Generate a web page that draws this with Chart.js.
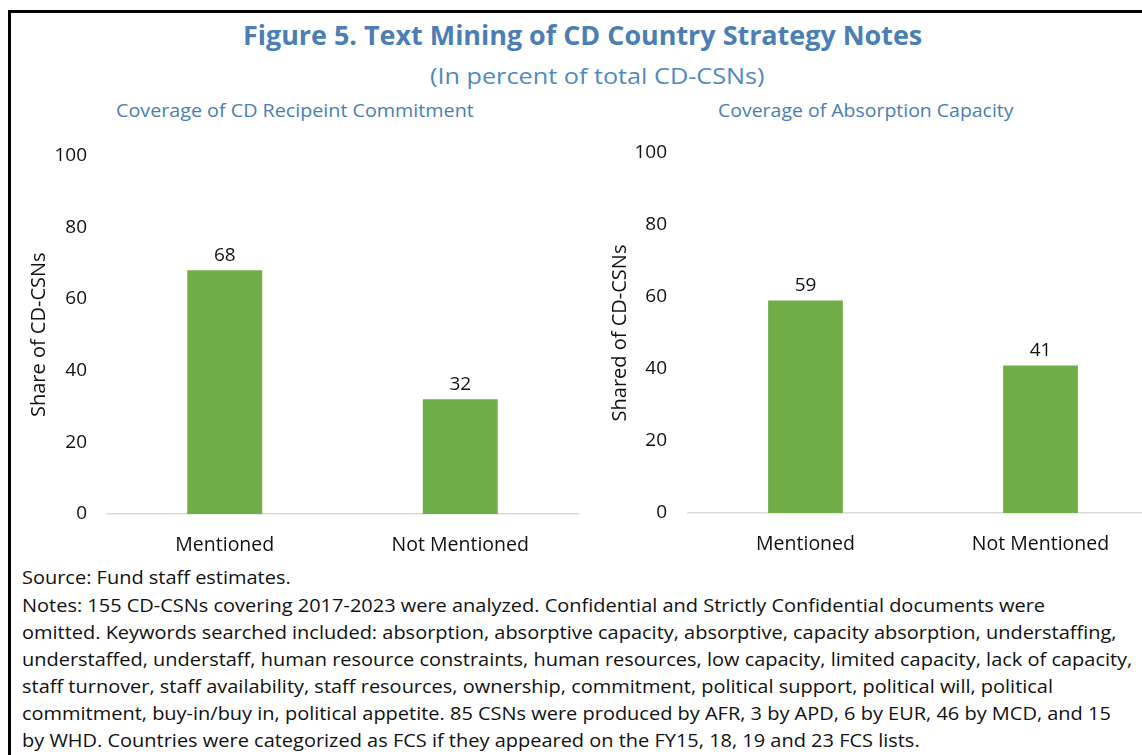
<!DOCTYPE html>
<html><head><meta charset="utf-8">
<script src="https://cdn.jsdelivr.net/npm/chart.js@4.4.0/dist/chart.umd.min.js"></script>
<style>
html,body{margin:0;padding:0;width:1142px;height:755px;overflow:hidden;background:#fff;font-family:"Open Sans",sans-serif;}
.frame{position:absolute;left:8px;top:10px;width:1300px;height:900px;border-left:3px solid #000;border-top:3px solid #000;}
.t{position:absolute;white-space:nowrap;transform-origin:0 50%;line-height:30px;}
.n{font-size:18px;color:#111;}
canvas{position:absolute;}
</style></head><body>
<div class="frame"></div>
<div class="t" data-x="243" data-w="679" data-y="35" style="font-weight:700;font-size:26px;color:#4a7eb4">Figure 5. Text Mining of CD Country Strategy Notes</div>
<div class="t" data-x="430" data-w="334" data-y="76" style="font-size:21px;color:#4f88c2">(In percent of total CD-CSNs)</div>
<div class="t" data-x="116" data-w="358" data-y="110" style="font-size:19px;color:#4a7eb4">Coverage of CD Recipeint Commitment</div>
<div class="t" data-x="718" data-w="296" data-y="110" style="font-size:19px;color:#4a7eb4">Coverage of Absorption Capacity</div>
<canvas id="c1" width="570" height="430" style="left:20px;top:130px;width:570px;height:430px"></canvas>
<canvas id="c2" width="570" height="430" style="left:600px;top:130px;width:570px;height:430px"></canvas>
<div class="t n" data-x="22" data-y="577">Source: Fund staff estimates.</div>
<div class="t n" data-x="22" data-y="605">Notes: 155 CD-CSNs covering 2017-2023 were analyzed. Confidential and Strictly Confidential documents were</div>
<div class="t n" id="ref" data-x="22" data-y="632">omitted. Keywords searched included: absorption, absorptive capacity, absorptive, capacity absorption, understaffing,</div>
<div class="t n" data-x="22" data-y="659">understaffed, understaff, human resource constraints, human resources, low capacity, limited capacity, lack of capacity,</div>
<div class="t n" data-x="22" data-y="686">staff turnover, staff availability, staff resources, ownership, commitment, political support, political will, political</div>
<div class="t n" data-x="22" data-y="713">commitment, buy-in/buy in, political appetite. 85 CSNs were produced by AFR, 3 by APD, 6 by EUR, 46 by MCD, and 15</div>
<div class="t n" data-x="22" data-y="740">by WHD. Countries were categorized as FCS if they appeared on the FY15, 18, 19 and 23 FCS lists.</div>
<script>
const categories = ['Mentioned', 'Not Mentioned'];
const commitmentValues = [68, 32];
const absorptionValues = [59, 41];
const yTicks = [0, 20, 40, 60, 80, 100];

// fit text widths
const noteScaleTarget = 1095;
const refEl = document.getElementById('ref');
document.querySelectorAll('.t').forEach(el => {
  el.style.left = el.dataset.x + 'px';
  el.style.top = (parseFloat(el.dataset.y) - 15) + 'px';
});
const noteScale = noteScaleTarget / refEl.offsetWidth;
document.querySelectorAll('.t').forEach(el => {
  const s = el.dataset.w ? parseFloat(el.dataset.w) / el.offsetWidth : noteScale;
  el.style.transform = 'scaleX(' + s + ')';
});

const FONT = '"Open Sans", sans-serif';
const valueLabels = {
  id: 'valueLabels',
  afterDatasetsDraw(chart) {
    const ctx = chart.ctx;
    chart.data.datasets.forEach((ds, i) => {
      chart.getDatasetMeta(i).data.forEach((bar, j) => {
        ctx.save();
        ctx.font = '19px ' + FONT;
        ctx.fillStyle = '#111';
        ctx.textAlign = 'center';
        ctx.textBaseline = 'middle';
        ctx.fillText(String(ds.data[j]), bar.x, bar.y - 15);
        ctx.restore();
      });
    });
  }
};

function makeChart(id, values, yTitle, o) {
  return new Chart(document.getElementById(id), {
    type: 'bar',
    data: { labels: categories, datasets: [{ data: values, backgroundColor: '#70ad47', categoryPercentage: 1, barPercentage: 0.318 }] },
    plugins: [valueLabels],
    options: {
      responsive: false, animation: false, devicePixelRatio: 1,
      layout: { padding: { top: o.top, right: 12, left: 0, bottom: 0 } },
      plugins: { legend: { display: false }, tooltip: { enabled: false }, title: { display: false } },
      scales: {
        x: {
          grid: { display: false, drawTicks: false },
          border: { display: true, color: '#d9d9d9', width: 1.5 },
          ticks: { color: '#111', font: { size: 19.5, family: FONT }, padding: 20 },
          afterFit: s => { s.height = o.xh; }
        },
        y: {
          min: 0, max: 100,
          grid: { display: false, drawTicks: false },
          border: { display: false },
          ticks: { color: '#111', font: { size: 19, family: FONT }, padding: o.tp },
          afterBuildTicks: s => { s.ticks = yTicks.map(v => ({ value: v })); },
          title: { display: true, text: yTitle, color: '#111', font: { size: 20, family: FONT }, padding: { top: o.tt, bottom: 0 } },
          afterFit: s => { s.width = o.yw; s.paddingTop = 0; s.paddingBottom = 0; }
        }
      }
    }
  });
}
makeChart('c1', commitmentValues, 'Share of CD-CSNs', { top: 25.5, xh: 46, yw: 87, tp: 20, tt: 7 });
makeChart('c2', absorptionValues, 'Shared of CD-CSNs', { top: 23, xh: 47, yw: 88, tp: 21, tt: 8 });
</script>
</body></html>
